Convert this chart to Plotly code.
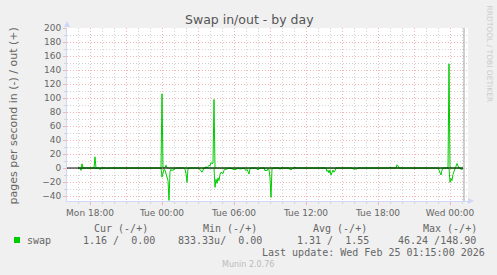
import plotly.graph_objects as go
import pandas as pd

# ---------------- data (5-minute samples, pages per second) ----------------
out_time = [
    "2026-02-23 17:00", "2026-02-23 17:15", "2026-02-23 17:20", "2026-02-23 17:25",
    "2026-02-23 18:20", "2026-02-23 18:25", "2026-02-23 18:30",
    "2026-02-23 23:55", "2026-02-24 00:00", "2026-02-24 00:05",
    "2026-02-24 00:15", "2026-02-24 00:20", "2026-02-24 00:25",
    "2026-02-24 02:30", "2026-02-24 02:35", "2026-02-24 02:40",
    "2026-02-24 03:35", "2026-02-24 03:40", "2026-02-24 03:45", "2026-02-24 03:50",
    "2026-02-24 03:55", "2026-02-24 04:00", "2026-02-24 04:05", "2026-02-24 04:10",
    "2026-02-24 04:15", "2026-02-24 04:20", "2026-02-24 04:25",
    "2026-02-24 11:00", "2026-02-24 11:05", "2026-02-24 11:10",
    "2026-02-24 18:55", "2026-02-24 19:00", "2026-02-24 19:05",
    "2026-02-24 19:30", "2026-02-24 19:35", "2026-02-24 19:40", "2026-02-24 19:45",
    "2026-02-24 23:50", "2026-02-24 23:55", "2026-02-25 00:00",
    "2026-02-25 00:25", "2026-02-25 00:30", "2026-02-25 00:35", "2026-02-25 00:40",
    "2026-02-25 00:45", "2026-02-25 01:05",
]
out_rate = [
    0, 0, 6, 0,
    0, 16, 0,
    0, 106, 0,
    0, 4, 0,
    0, 1, 0,
    0, 2, 0, 2,
    4, 3, 8, 6,
    7, 98, 0,
    0, 1.4, 0,
    0, 1.5, 0,
    0, 4.7, 3, 0,
    0, 148.9, 0,
    0, 2.4, 6.5, 3,
    0, 0,
]

in_time = [
    "2026-02-23 17:00", "2026-02-23 17:10", "2026-02-23 17:15", "2026-02-23 17:20",
    "2026-02-23 18:25", "2026-02-23 18:30", "2026-02-23 18:35",
    "2026-02-23 18:45", "2026-02-23 18:50", "2026-02-23 18:55",
    "2026-02-23 19:20", "2026-02-23 19:25", "2026-02-23 19:30",
    "2026-02-23 20:05", "2026-02-23 20:10", "2026-02-23 20:20", "2026-02-23 20:30",
    "2026-02-23 20:35",
    "2026-02-23 23:55", "2026-02-24 00:00", "2026-02-24 00:05", "2026-02-24 00:10",
    "2026-02-24 00:15", "2026-02-24 00:20", "2026-02-24 00:25", "2026-02-24 00:30",
    "2026-02-24 00:35", "2026-02-24 00:40", "2026-02-24 00:45", "2026-02-24 00:50",
    "2026-02-24 00:55", "2026-02-24 01:00", "2026-02-24 01:05", "2026-02-24 01:10",
    "2026-02-24 01:50", "2026-02-24 01:55", "2026-02-24 02:00", "2026-02-24 02:05",
    "2026-02-24 02:10", "2026-02-24 02:15",
    "2026-02-24 03:00", "2026-02-24 03:10", "2026-02-24 03:20", "2026-02-24 03:25",
    "2026-02-24 03:30",
    "2026-02-24 04:20", "2026-02-24 04:25", "2026-02-24 04:30", "2026-02-24 04:35",
    "2026-02-24 04:40", "2026-02-24 04:45", "2026-02-24 04:50", "2026-02-24 04:55",
    "2026-02-24 05:00", "2026-02-24 05:05", "2026-02-24 05:10", "2026-02-24 05:15",
    "2026-02-24 05:25", "2026-02-24 05:35", "2026-02-24 05:50", "2026-02-24 06:00",
    "2026-02-24 06:10", "2026-02-24 06:20", "2026-02-24 06:30", "2026-02-24 06:40",
    "2026-02-24 06:50", "2026-02-24 07:00", "2026-02-24 07:05", "2026-02-24 07:10",
    "2026-02-24 07:15", "2026-02-24 07:20", "2026-02-24 07:25",
    "2026-02-24 07:50", "2026-02-24 07:55", "2026-02-24 08:05", "2026-02-24 08:10",
    "2026-02-24 08:30", "2026-02-24 08:35", "2026-02-24 08:40", "2026-02-24 08:45",
    "2026-02-24 08:50", "2026-02-24 08:55", "2026-02-24 09:00", "2026-02-24 09:05",
    "2026-02-24 09:10", "2026-02-24 09:15",
    "2026-02-24 09:45", "2026-02-24 09:50", "2026-02-24 09:55",
    "2026-02-24 10:35", "2026-02-24 10:40", "2026-02-24 10:50", "2026-02-24 10:55",
    "2026-02-24 13:40", "2026-02-24 13:45", "2026-02-24 13:50", "2026-02-24 13:55",
    "2026-02-24 14:00", "2026-02-24 14:05", "2026-02-24 14:10", "2026-02-24 14:15",
    "2026-02-24 14:20", "2026-02-24 14:25", "2026-02-24 14:30",
    "2026-02-24 15:50", "2026-02-24 15:55", "2026-02-24 16:15", "2026-02-24 16:20",
    "2026-02-24 20:25", "2026-02-24 20:30", "2026-02-24 20:45", "2026-02-24 20:50",
    "2026-02-24 21:15", "2026-02-24 21:20", "2026-02-24 21:25",
    "2026-02-24 23:00", "2026-02-24 23:05", "2026-02-24 23:10", "2026-02-24 23:15",
    "2026-02-24 23:20", "2026-02-24 23:25",
    "2026-02-24 23:55", "2026-02-25 00:00", "2026-02-25 00:05", "2026-02-25 00:10",
    "2026-02-25 00:15", "2026-02-25 00:20", "2026-02-25 00:25", "2026-02-25 00:30",
    "2026-02-25 00:50", "2026-02-25 00:55", "2026-02-25 01:00", "2026-02-25 01:05",
]
in_rate = [
    0, 0, 3.4, 0,
    0, 1, 0,
    0, 2.4, 0,
    0, 1, 0,
    0, 1, 0.5, 1,
    0,
    0, 13, 6, 2,
    3, 8, 12, 18,
    46.24, 5, 2, 4,
    2, 3, 1, 0,
    0, 2, 8, 20.5,
    1, 0,
    0, 2, 6, 2,
    0,
    0, 27.6, 16, 22,
    14, 18, 9, 6,
    7, 8, 3, 2,
    1.5, 0, 1, 2.4,
    2, 0, 1.5, 1,
    0, 3.8, 2, 5,
    8.6, 1, 0,
    0, 2, 2, 0,
    0, 4, 3, 4,
    1, 2, 14, 42,
    1, 0,
    0, 2, 0,
    0, 2.4, 2, 0,
    0, 5, 3, 7,
    3, 10, 7, 3,
    6, 4, 0,
    0, 1.4, 1.4, 0,
    0, 1, 1, 0,
    0, 1, 0,
    0, 3, 7, 10,
    3, 0,
    0, 20.5, 15, 18,
    9, 4, 1, 0,
    0, 2.4, 1, 1.16,
]

x_tick_vals = ["2026-02-23 18:00", "2026-02-23 21:00", "2026-02-24 00:00", "2026-02-24 03:00",
               "2026-02-24 06:00", "2026-02-24 09:00", "2026-02-24 12:00", "2026-02-24 15:00",
               "2026-02-24 18:00", "2026-02-24 21:00", "2026-02-25 00:00"]
x_tick_text = ["Mon 18:00", "", "Tue 00:00", "", "Tue 06:00", "", "Tue 12:00", "",
               "Tue 18:00", "", "Wed 00:00"]
y_tick_vals = [-40, -20, 0, 20, 40, 60, 80, 100, 120, 140, 160, 180, 200]

x_range = ["2026-02-23 16:05", "2026-02-25 01:30"]
y_range = [-47.1, 200]
data_end = "2026-02-25 01:05"
now_line = "2026-02-25 01:10"

legend_headers = ["Cur (-/+)", "Min (-/+)", "Avg (-/+)", "Max (-/+)"]
legend_values = ["1.16 /  0.00", "833.33u/  0.00", "1.31 /  1.55", "46.24 /148.90"]

# ---------------- layout helpers ----------------
W, H = 497, 275
L, R, T, B = 67, 468, 28, 201


def px(x):
    return (x - L) / (R - L)


def py(y):
    return (B - y) / (B - T)


GREEN = "#00CC00"
FONT = "#666666"
MONO = "DejaVu Sans Mono"
SANS = "DejaVu Sans"
MGRID = "#F4B4B4"
GRID = "#D4D4D4"

hour_ticks = [t.strftime("%Y-%m-%d %H:%M")
              for t in pd.date_range("2026-02-23 17:00", "2026-02-25 01:00", freq="1h")]
ten_ticks = list(range(-40, 201, 10))

fig = go.Figure()
fig.add_trace(go.Scatter(x=out_time, y=out_rate, mode="lines",
                         line=dict(color=GREEN, width=1), showlegend=False, hoverinfo="skip"))
fig.add_trace(go.Scatter(x=in_time, y=[-v for v in in_rate], mode="lines",
                         line=dict(color=GREEN, width=1), showlegend=False, hoverinfo="skip"))

fig.update_layout(
    width=W, height=H,
    margin=dict(l=L, r=W - R, t=T, b=H - B, pad=0),
    paper_bgcolor="#F0F0F0", plot_bgcolor="#FFFFFF",
    font=dict(family=SANS, size=9, color=FONT),
    showlegend=False,
)

fig.update_xaxes(
    type="date", range=x_range,
    tickmode="array", tickvals=x_tick_vals, ticktext=x_tick_text,
    showgrid=True, gridcolor=MGRID, griddash="1px,2px", gridwidth=1,
    ticks="outside", ticklen=3, tickcolor=MGRID,
    minor=dict(tickmode="array", tickvals=hour_ticks, showgrid=True,
               gridcolor=GRID, griddash="1px,2px", gridwidth=1, ticks="outside",
               ticklen=2, tickcolor=GRID),
    showline=True, linecolor="#CFD6F8", linewidth=1,
    zeroline=False, tickfont=dict(size=9, color=FONT),
)
fig.update_yaxes(
    range=y_range, tickmode="array", tickvals=y_tick_vals,
    showgrid=True, gridcolor=MGRID, griddash="1px,2px", gridwidth=1,
    ticks="outside", ticklen=3, tickcolor=MGRID,
    minor=dict(tickmode="array", tickvals=ten_ticks, showgrid=True, gridcolor=GRID,
               griddash="1px,2px", gridwidth=1, ticks="outside", ticklen=2, tickcolor=GRID),
    showline=True, linecolor="#CFD6F8", linewidth=1,
    zeroline=False, tickfont=dict(size=9, color=FONT),
)

shapes = [
    dict(type="line", xref="x", yref="y", x0=x_range[0], x1=data_end, y0=0, y1=0,
         line=dict(color="#000000", width=1)),
    dict(type="line", xref="x", yref="paper", x0=now_line, x1=now_line, y0=0, y1=1,
         line=dict(color="#A0A0A0", width=1)),
    dict(type="path", xref="paper", yref="paper",
         path=f"M {px(64)} {py(27)} L {px(70)} {py(27)} L {px(67)} {py(21)} Z",
         fillcolor="#CFD6F8", line=dict(width=0)),
    dict(type="path", xref="paper", yref="paper",
         path=f"M {px(468)} {py(198)} L {px(468)} {py(204)} L {px(474)} {py(201)} Z",
         fillcolor="#CFD6F8", line=dict(width=0)),
    dict(type="rect", xref="paper", yref="paper",
         x0=px(14), x1=px(20), y0=py(243), y1=py(237),
         fillcolor=GREEN, line=dict(width=0)),
]


def nb(s):
    return s.replace(" ", "\u00a0")


ann = [
    dict(text="Swap in/out - by day", x=px(249), y=py(19.5), xanchor="center", yanchor="middle",
         font=dict(family=SANS, size=12.5, color="#555555")),
    dict(text="pages per second in (-) / out (+)", x=px(12.5), y=py(116), textangle=-90,
         xanchor="center", yanchor="middle", font=dict(family=SANS, size=11, color=FONT)),
    dict(text="RRDTOOL / TOBI OETIKER", x=px(489), y=py(53.5), textangle=90,
         xanchor="center", yanchor="middle", font=dict(family=SANS, size=7.5, color="#CCCCCC")),
    dict(text="swap", x=px(26), y=py(240), xanchor="left", yanchor="middle",
         font=dict(family=MONO, size=10, color=FONT)),
    dict(text=nb("Last update: Wed Feb 25 01:15:00 2026"), x=px(261), y=py(252),
         xanchor="left", yanchor="middle", font=dict(family=MONO, size=10, color=FONT)),
    dict(text="Munin 2.0.76", x=px(248), y=py(264), xanchor="center", yanchor="middle",
         font=dict(family=SANS, size=8, color="#BBBBBB")),
]
header_x = [93, 202, 312, 422]
value_x = [82, 177, 296, 397]
for hx, h in zip(header_x, legend_headers):
    ann.append(dict(text=nb(h), x=px(hx), y=py(228), xanchor="left", yanchor="middle",
                    font=dict(family=MONO, size=10, color=FONT)))
for vx, v in zip(value_x, legend_values):
    ann.append(dict(text=nb(v), x=px(vx), y=py(240), xanchor="left", yanchor="middle",
                    font=dict(family=MONO, size=10, color=FONT)))

for a in ann:
    a.update(xref="paper", yref="paper", showarrow=False, borderpad=0)

fig.update_layout(shapes=shapes, annotations=ann)
fig.write_html("out.html")
